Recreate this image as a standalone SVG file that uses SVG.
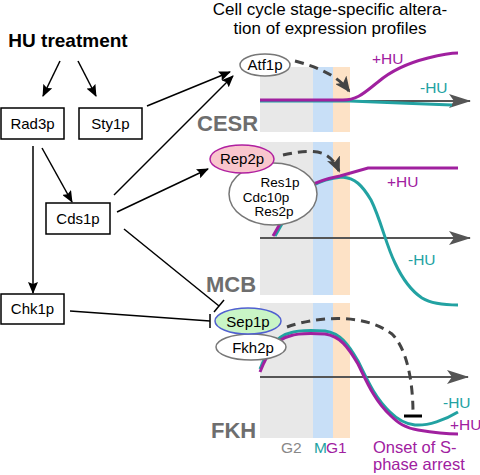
<svg xmlns="http://www.w3.org/2000/svg" width="480" height="475" viewBox="0 0 480 475">
<defs>
<marker id="ah" markerWidth="12" markerHeight="10" refX="11" refY="5" orient="auto" markerUnits="userSpaceOnUse">
<path d="M0,0 L12,5 L0,10 L2,5 z" fill="#000"/>
</marker>
<marker id="axh" markerWidth="22" markerHeight="14" refX="21" refY="7" orient="auto" markerUnits="userSpaceOnUse">
<path d="M0,0 L22,7 L0,14 L5,7 z" fill="#555"/>
</marker>
<marker id="dh" markerWidth="16" markerHeight="14" refX="14" refY="7" orient="auto" markerUnits="userSpaceOnUse">
<path d="M0,0 L16,7 L0,14 L4,7 z" fill="#444"/>
</marker>
<style>
.box{fill:#fff;stroke:#000;stroke-width:1.5}
.t{font-family:"Liberation Sans",Arial,sans-serif;font-size:15px;fill:#000}
.lbl{font-family:"Liberation Sans",Arial,sans-serif;font-size:22px;font-weight:bold;fill:#6e6e6e}
.hu{font-family:"Liberation Sans",Arial,sans-serif;font-size:15.5px}
.edge{stroke:#000;stroke-width:1.5;fill:none}
.g2{fill:#e8e8e8}.m{fill:#c8dff7}.g1{fill:#fde2c6}
.axis{stroke:#555;stroke-width:2;fill:none}
.mag{stroke:#a0209f;stroke-width:3;fill:none}
.teal{stroke:#22a2a2;stroke-width:3;fill:none}
.dash{stroke:#444;stroke-width:3;fill:none;stroke-dasharray:9,6}
</style>
</defs>

<text x="68" y="47" text-anchor="middle" font-family="Liberation Sans, Arial, sans-serif" font-size="19" font-weight="bold">HU treatment</text>
<text x="330" y="15" text-anchor="middle" class="t" style="font-size:17px">Cell cycle stage-specific altera-</text>
<text x="330" y="34" text-anchor="middle" class="t" style="font-size:17px">tion of expression profiles</text>

<!-- panel backgrounds -->
<g id="panel-cesr">
<rect class="g2" x="260" y="67" width="53" height="65"/>
<rect class="m" x="313" y="67" width="20" height="65"/>
<rect class="g1" x="333" y="67" width="17" height="65"/>
<line class="axis" x1="260" y1="101" x2="470" y2="101" marker-end="url(#axh)"/>
<path class="teal" d="M260,101 L350,101 C380,102 420,104 452,105"/>
<path class="mag" d="M260,100 L343,100 C358,100 365,92 378,82 C392,70 408,63 428,58 C440,55 450,53 458,53"/>
<text class="hu" x="372" y="64" fill="#a0209f">+HU</text>
<text class="hu" x="420" y="93" fill="#22a2a2">-HU</text>
<text class="lbl" x="197" y="131">CESR</text>
</g>

<g id="panel-mcb">
<rect class="g2" x="260" y="142" width="53" height="153"/>
<rect class="m" x="313" y="142" width="20" height="153"/>
<rect class="g1" x="333" y="142" width="17" height="153"/>
<line class="axis" x1="260" y1="238" x2="470" y2="238" marker-end="url(#axh)"/>
<path class="teal" d="M275,236 C287,215 297,195 312,186 C322,180 332,178 342,177 C355,178 362,185 371,200 C381,220 386,245 395,263 C402,278 410,290 422,298 C432,304 445,305 458,305"/>
<path class="mag" d="M273,236 C285,215 295,195 310,186 C320,180 330,178 340,176 L368,168 L458,168"/>
<text class="hu" x="387" y="187" fill="#a0209f">+HU</text>
<text class="hu" x="408" y="265" fill="#22a2a2">-HU</text>
<text class="lbl" x="206" y="292">MCB</text>
</g>

<g id="panel-fkh">
<rect class="g2" x="260" y="303" width="53" height="135"/>
<rect class="m" x="313" y="303" width="20" height="135"/>
<rect class="g1" x="333" y="303" width="17" height="135"/>
<line class="axis" x1="260" y1="377" x2="468" y2="377" marker-end="url(#axh)"/>
<path class="teal" d="M260,369 C268,350 276,336 290,333 C298,330 310,330 325,331 C340,333 348,344 358,361 C366,377 374,397 390,412 C398,420 405,424 415,425 C428,426 445,420 458,412"/>
<path class="mag" d="M260,372 C268,352 276,339 290,336 C298,333 310,333 325,334 C340,336 348,347 358,364 C366,380 374,400 390,415 C398,423 405,428 418,430 C430,432 445,434 458,434"/>
<text class="hu" x="443" y="408" fill="#22a2a2">-HU</text>
<text class="hu" x="450" y="430" fill="#a0209f">+HU</text>
<text class="lbl" x="211" y="438">FKH</text>
<text class="hu" x="281" y="453" fill="#888">G2</text>
<text class="hu" x="314" y="453" fill="#22a2a2">M</text>
<text class="hu" x="326" y="453" fill="#a0209f">G1</text>
<text class="hu" x="373" y="453" fill="#a0209f" style="font-size:16.5px">Onset of S-</text>
<text class="hu" x="373" y="470" fill="#a0209f" style="font-size:16.5px">phase arrest</text>
</g>

<!-- connectors -->
<g id="connectors">
<line class="edge" x1="60" y1="61" x2="43" y2="96" marker-end="url(#ah)"/>
<line class="edge" x1="78" y1="61" x2="96" y2="96" marker-end="url(#ah)"/>
<line class="edge" x1="33" y1="146" x2="33" y2="293" marker-end="url(#ah)"/>
<line class="edge" x1="42" y1="148" x2="72" y2="202" marker-end="url(#ah)"/>
<line class="edge" x1="147" y1="106" x2="230" y2="72" marker-end="url(#ah)"/>
<line class="edge" x1="114" y1="195" x2="233" y2="76" marker-end="url(#ah)"/>
<line class="edge" x1="117" y1="212" x2="208" y2="169" marker-end="url(#ah)"/>
<line class="edge" x1="124" y1="229" x2="219" y2="306"/>
<line class="edge" x1="214" y1="312" x2="224" y2="300"/>
<line class="edge" x1="70" y1="311" x2="210" y2="321"/>
<line class="edge" x1="210" y1="314" x2="210" y2="328"/>
<path class="dash" d="M295,61 C318,67 338,76 349,91" marker-end="url(#dh)"/>
<path class="dash" d="M283,155 C300,151 315,150 324,154 C332,158 336,164 339,171" marker-end="url(#dh)"/>
<path class="dash" d="M287,327 C312,318 362,311 392,334 C408,350 413,385 413,413"/>
<line x1="404" y1="416" x2="422" y2="416" stroke="#000" stroke-width="3"/>
</g>

<!-- nodes -->
<g id="n-rad3p"><rect class="box" x="1" y="108" width="63" height="31"/><text class="t" x="32.5" y="129" text-anchor="middle">Rad3p</text></g>
<g id="n-sty1p"><rect class="box" x="79" y="108" width="63" height="31"/><text class="t" x="110.5" y="129" text-anchor="middle">Sty1p</text></g>
<g id="n-cds1p"><rect class="box" x="46" y="203" width="64" height="31"/><text class="t" x="78" y="224" text-anchor="middle">Cds1p</text></g>
<g id="n-chk1p"><rect class="box" x="1" y="294" width="63" height="30"/><text class="t" x="32.5" y="314" text-anchor="middle">Chk1p</text></g>
<g id="n-atf1p"><ellipse cx="265" cy="65" rx="25" ry="11" fill="#fff" stroke="#777" stroke-width="1.5"/><text class="t" x="265" y="70" text-anchor="middle">Atf1p</text></g>
<g id="n-res"><ellipse cx="273" cy="194" rx="44" ry="31" fill="#fff" stroke="#777" stroke-width="1.5"/>
<text class="t" text-anchor="middle" style="font-size:13.5px"><tspan x="280" y="187">Res1p</tspan><tspan x="266" y="201.5">Cdc10p</tspan><tspan x="274" y="216">Res2p</tspan></text></g>
<g id="n-rep2p"><ellipse cx="242" cy="159" rx="32" ry="14" fill="#f9c6cd" stroke="#b020a0" stroke-width="1.5"/><text class="t" x="242" y="164" text-anchor="middle">Rep2p</text></g>
<g id="n-fkh2p"><ellipse cx="251" cy="347" rx="35" ry="13" fill="#fff" stroke="#777" stroke-width="1.5"/><text class="t" x="253" y="353" text-anchor="middle">Fkh2p</text></g>
<g id="n-sep1p"><ellipse cx="248" cy="321" rx="33" ry="13" fill="#c9f5c6" stroke="#5060d0" stroke-width="1.5"/><text class="t" x="248" y="327" text-anchor="middle">Sep1p</text></g>
</svg>
